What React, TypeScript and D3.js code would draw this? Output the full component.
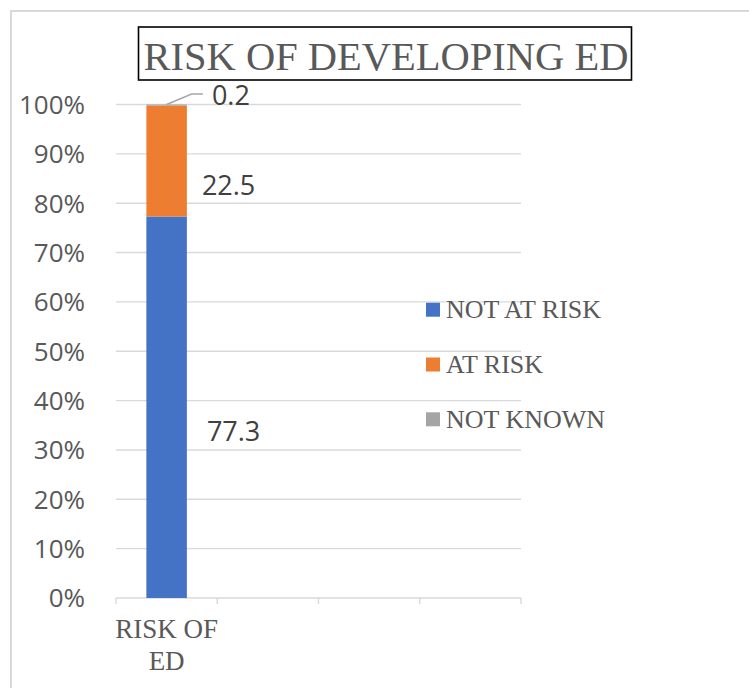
import React from "react";
import * as d3 from "d3";

// Chart data
const categories = ["RISK OF ED", "", "", ""];
const categoryLines = [["RISK OF", "ED"], [], [], []];
const seriesNames = ["NOT AT RISK", "AT RISK", "NOT KNOWN"];
const notAtRisk = [77.3];
const atRisk = [22.5];
const notKnown = [0.2];
const yTicks = [0, 10, 20, 30, 40, 50, 60, 70, 80, 90, 100];
const title = "RISK OF DEVELOPING ED";

const colors = ["#4472C4", "#ED7D31", "#A5A5A5"];

const W = 749;
const H = 688;
const plot = { left: 116, right: 521, top: 104.5, bottom: 598 };

// label placement: offset from bar right edge (dx) and from segment centre (dy)
const labelOffsets = [
  { dx: 20, dy: 24 },
  { dx: 15, dy: 24 },
  { dx: 25, dy: -10 },
];

const sans = "Open Sans, Liberation Sans, sans-serif";
const serif = "Liberation Serif, Tinos, Times New Roman, Times, DejaVu Serif, Noto Serif, serif";

export default function App() {
  const rows = categories.map((c, i) => ({
    key: String(i),
    name: c,
    [seriesNames[0]]: notAtRisk[i] ?? 0,
    [seriesNames[1]]: atRisk[i] ?? 0,
    [seriesNames[2]]: notKnown[i] ?? 0,
    has: i < notAtRisk.length,
  }));

  const x = d3
    .scaleBand<string>()
    .domain(rows.map((r) => r.key))
    .range([plot.left, plot.right])
    .paddingInner(0)
    .paddingOuter(0);
  const y = d3.scaleLinear().domain([0, 100]).range([plot.bottom, plot.top]);

  const stacked = d3.stack<any>().keys(seriesNames)(rows.filter((r) => r.has));
  const bw = x.bandwidth() / 2.5;

  const boundaries = rows.map((r) => x(r.key)!).concat([plot.right]);

  return (
    <svg
      width={W}
      height={H}
      style={{ position: "absolute", left: 0, top: 0, background: "#fff" }}
    >
      <rect x={0} y={0} width={W} height={H} fill="#fff" />
      <rect x={11} y={11} width={W + 20} height={H + 20} fill="none" stroke="#D9D9D9" strokeWidth={2} />

      {/* title */}
      <rect x={138.5} y={27} width={493} height={53} fill="#fff" stroke="#000" strokeWidth={1.6} />
      <text
        x={386}
        y={70}
        textAnchor="middle"
        style={{ fontFamily: serif }}
        fontSize={40.5}
        fill="#595959"
      >
        {title}
      </text>

      {/* gridlines */}
      {yTicks.map((t) => (
        <line
          key={"g" + t}
          x1={plot.left}
          x2={plot.right}
          y1={y(t)}
          y2={y(t)}
          stroke="#D9D9D9"
          strokeWidth={1.4}
        />
      ))}
      {/* category ticks */}
      {boundaries.map((b, i) => (
        <line key={"t" + i} x1={b} x2={b} y1={y(0)} y2={y(0) + 6} stroke="#D9D9D9" strokeWidth={1.4} />
      ))}

      {/* y tick labels */}
      {yTicks.map((t) => (
        <text
          key={"yl" + t}
          x={85}
          y={y(t)}
          dy="0.36em"
          textAnchor="end"
          style={{ fontFamily: sans }}
          fontSize={26}
          fill="#595959"
        >
          {t + "%"}
        </text>
      ))}

      {/* stacked bars */}
      {stacked.map((s, si) =>
        s.map((d, di) => {
          const cx = x(String(di))! + x.bandwidth() / 2;
          return (
            <rect
              key={"b" + si + "-" + di}
              x={cx - bw / 2}
              y={y(d[1])}
              width={bw}
              height={Math.max(0, y(d[0]) - y(d[1]))}
              fill={colors[si]}
            />
          );
        })
      )}

      {/* data labels */}
      {stacked.map((s, si) =>
        s.map((d, di) => {
          const cx = x(String(di))! + x.bandwidth() / 2;
          const right = cx + bw / 2;
          const val = d[1] - d[0];
          const off = labelOffsets[si];
          const ly = (y(d[0]) + y(d[1])) / 2 + off.dy;
          const lx = right + off.dx;
          const leader =
            si === 2 ? (
              <polyline
                points={`${cx},${y(d[1])} ${cx + 25},${ly - 1} ${lx - 9},${ly - 1}`}
                fill="none"
                stroke="#A6A6A6"
                strokeWidth={1.4}
              />
            ) : null;
          return (
            <g key={"l" + si + "-" + di}>
              {leader}
              <text
                x={lx}
                y={ly}
                dy="0.36em"
                style={{ fontFamily: sans }}
                fontSize={27}
                fill="#404040"
              >
                {d3.format(".1f")(val)}
              </text>
            </g>
          );
        })
      )}

      {/* category labels */}
      {rows.map((r, i) =>
        categoryLines[i].map((line, li) => (
          <text
            key={"c" + i + "-" + li}
            x={x(r.key)! + x.bandwidth() / 2}
            y={638 + li * 31.5}
            textAnchor="middle"
            style={{ fontFamily: serif }}
            fontSize={27}
            fill="#595959"
          >
            {line}
          </text>
        ))
      )}

      {/* legend */}
      {seriesNames.map((n, i) => {
        const cy = 309.7 + i * 54.8;
        return (
          <g key={"lg" + i}>
            <rect x={426} y={cy - 7} width={14} height={14} fill={colors[i]} />
            <text
              x={446}
              y={cy}
              dy="0.33em"
              style={{ fontFamily: serif }}
              fontSize={26}
              fill="#595959"
            >
              {n}
            </text>
          </g>
        );
      })}
    </svg>
  );
}
